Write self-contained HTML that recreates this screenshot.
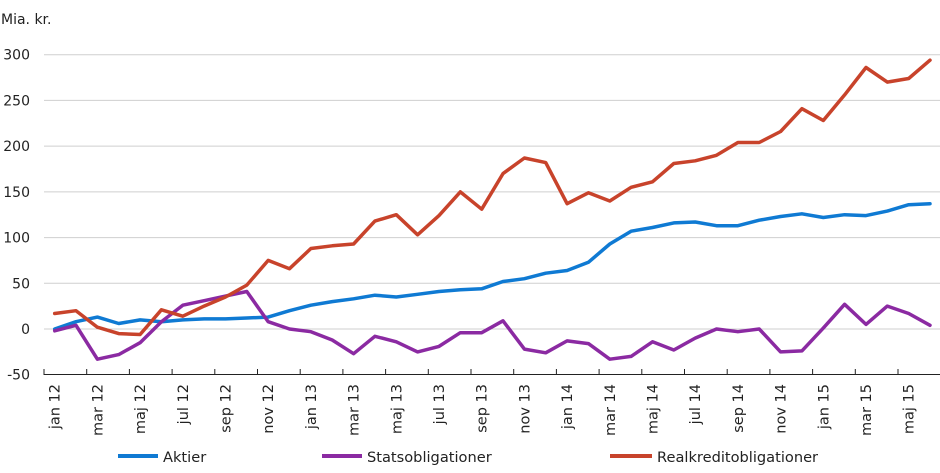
<!DOCTYPE html>
<html><head><meta charset="utf-8"><style>
html,body{margin:0;padding:0;background:#fff;}
svg{display:block;font-family:"DejaVu Sans","Liberation Sans",sans-serif;}
</style></head><body>
<svg id="c" width="940" height="473" xmlns="http://www.w3.org/2000/svg">
<text x="1" y="24" font-size="14" fill="#222">Mia. kr.</text>
<g id="grid"></g>
<g id="lines"></g>
<g font-size="14.6" fill="#222">
<line x1="118" y1="456" x2="158" y2="456" stroke="#0f7ad3" stroke-width="4"/>
<text x="163" y="462">Aktier</text>
<line x1="322" y1="456" x2="362" y2="456" stroke="#8b2aa2" stroke-width="4"/>
<text x="367" y="462">Statsobligationer</text>
<line x1="610" y1="456" x2="652" y2="456" stroke="#c8432b" stroke-width="4"/>
<text x="657" y="462">Realkreditobligationer</text>
</g>
</svg>
<script>
var NS="http://www.w3.org/2000/svg";
function Y(v){return 329-v*0.9143;}
function X(i){return 44+(i+0.5)*21.35;}
var g=document.getElementById('grid');
function el(t,a,p){var e=document.createElementNS(NS,t);for(var k in a)e.setAttribute(k,a[k]);(p||g).appendChild(e);return e;}
[300,250,200,150,100,50,0].forEach(function(v){
 el('line',{x1:44,x2:940,y1:Y(v),y2:Y(v),stroke:'#cfcfcf','stroke-width':1});
});
[300,250,200,150,100,50,0,-50].forEach(function(v){
 var t=el('text',{x:30,y:Y(v)+5,'font-size':14,fill:'#222','text-anchor':'end'});t.textContent=v;
});
el('line',{x1:44,x2:940,y1:374.5,y2:374.5,stroke:'#222','stroke-width':1});
var mn=['jan','mar','maj','jul','sep','nov'];
for(var k=0;k<=21;k++){
 var x=44+k*42.7;
 el('line',{x1:x,x2:x,y1:369,y2:375,stroke:'#222','stroke-width':1});
}
for(var k=0;k<21;k++){
 var i=k*2, x=X(i)+5, yr=12+Math.floor(i/12);
 var t=el('text',{x:x,y:384,'font-size':14.5,fill:'#222','text-anchor':'end',transform:'rotate(-90 '+x+' 384)'});
 t.textContent=mn[k%6]+' '+yr;
}
var A=[0,8,13,6,10,8,10,11,11,12,13,20,26,30,33,37,35,38,41,43,44,52,55,61,64,73,93,107,111,116,117,113,113,119,123,125,126,122,125,124,129,136,137];
A.splice(35,1);
var S=[-2,4,-33,-28,-15,8,26,31,36,41,8,0,-3,-12,-27,-8,-14,-25,-19,-4,-4,9,-22,-26,-13,-16,-33,-30,-14,-23,-10,0,-3,0,-25,-24,1,27,5,25,17,4];
var R=[17,20,2,-5,-6,21,14,25,35,48,75,66,88,91,93,118,125,103,124,150,131,170,187,182,137,149,140,155,161,181,184,190,204,204,216,241,228,256,286,270,274,294];
var L=document.getElementById('lines');
[[A,'#0f7ad3'],[S,'#8b2aa2'],[R,'#c8432b']].forEach(function(s){
 var p=s[0].map(function(v,i){return X(i).toFixed(1)+','+Y(v).toFixed(1);}).join(' ');
 el('polyline',{points:p,fill:'none',stroke:s[1],'stroke-width':3.5,'stroke-linejoin':'round','stroke-linecap':'round'},L);
});
</script>
</body></html>
